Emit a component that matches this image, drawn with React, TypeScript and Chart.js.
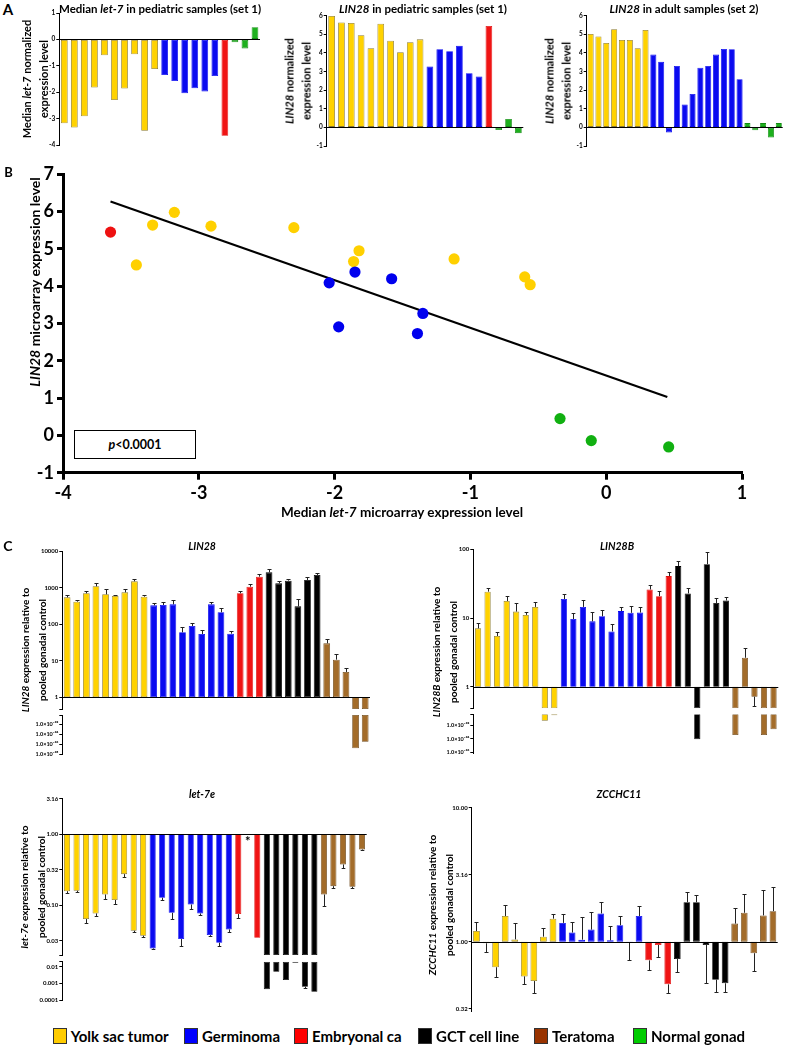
import React, { useEffect, useRef } from "react";
import { Chart, registerables } from "chart.js";

Chart.register(...registerables);

const FONT = "Lato, 'Open Sans', 'DejaVu Sans', sans-serif";

// ================= DATA =================
// Panel A (set 1) and Panel B: 20 pediatric samples
const set1Groups = ["Y", "Y", "Y", "Y", "Y", "Y", "Y", "Y", "Y", "Y", "B", "B", "B", "B", "B", "B", "R", "G", "G", "G"];
const set1Let7 = [-3.18, -3.34, -2.91, -1.82, -0.6, -2.3, -1.86, -0.56, -3.46, -1.12, -1.35, -1.58, -2.04, -1.85, -1.97, -1.39, -3.65, -0.11, -0.34, 0.46];
const set1Lin28 = [5.98, 5.64, 5.61, 4.95, 4.25, 5.57, 4.66, 4.04, 4.57, 4.73, 3.27, 4.2, 4.09, 4.38, 2.91, 2.73, 5.45, -0.14, 0.45, -0.31];

// Panel A (set 2): 25 adult samples
const set2Groups = ["Y", "Y", "Y", "Y", "Y", "Y", "Y", "Y", "B", "B", "B", "B", "B", "B", "B", "B", "B", "B", "B", "B", "G", "G", "G", "G", "G"];
const set2Lin28 = [5.02, 4.88, 4.54, 5.27, 4.7, 4.7, 4.25, 5.23, 3.91, 3.52, -0.27, 3.3, 1.23, 1.79, 3.2, 3.3, 3.91, 4.21, 4.2, 2.59, 0.23, -0.16, 0.23, -0.55, 0.23];

// Panel B regression line end points
const fitLineX = [-3.65, 0.45];
const fitLineY = [6.27, 1.03];
const pValueText = "<0.0001";

// Panel C: 32 samples each
const cGroups = ["Y", "Y", "Y", "Y", "Y", "Y", "Y", "Y", "Y", "B", "B", "B", "B", "B", "B", "B", "B", "B", "R", "R", "R", "K", "K", "K", "K", "K", "K", "T", "T", "T", "T", "T"];
const lin28Values = [541, 412, 697, 1082, 654, 589, 741, 1482, 565, 327, 334, 348, 59.8, 89.1, 53.8, 348, 211, 55, 697, 1059, 1986, 2612, 1306, 1546, 307, 1611, 2208, 29.9, 10.7, 4.93, 1.7e-7, 3.6e-6];
const lin28Err = [627, 457, 807, 1306, 896, 640, 896, 1718, 614, 387, 395, 448, 83.8, 110, 70.8, 404, 277, 63.7, 824, 1228, 2302, 3156, 1546, 1718, 477, 1986, 2556, 39.3, 15.3, 6.2, null, null];
const lin28bValues = [7.07, 24.2, 5.47, 17.7, 12.4, 11.1, 14.5, 0.042, 0.25, 18.9, 9.67, 14.5, 8.94, 10.6, 6.38, 12.6, 11.9, 12.0, 26.0, 20.8, 40.7, 56.9, 22.8, 8.5e-5, 60.8, 16.5, 18.0, 3.5e-4, 2.64, 0.715, 3.5e-4, 2.4e-3];
const lin28bErr = [8.36, 27.3, 6.18, 21.2, 16.4, 12.1, 17.1, null, null, 22.1, 11.7, 18.1, 12.1, 12.9, 8.17, 14.7, 15.2, 14.3, 30.1, 24.9, 46, 68, 26.9, null, 90.8, 19.3, 20.4, null, 3.61, 0.53, null, null];
const let7eValues = [0.157, 0.159, 0.0635, 0.0763, 0.141, 0.118, 0.273, 0.0435, 0.037, 0.0245, 0.127, 0.078, 0.0332, 0.102, 0.0763, 0.0378, 0.0295, 0.0454, 0.0747, null, 0.0347, 0.00044, 0.005, 0.00158, 0.017, 0.00063, 0.000316, 0.141, 0.185, 0.374, 0.181, 0.608];
const let7eErr = [0.146, 0.151, 0.0552, 0.07, 0.123, 0.105, 0.25, 0.042, 0.0358, 0.024, 0.118, 0.0635, 0.0265, 0.0888, 0.0717, 0.0362, 0.0267, 0.042, 0.0649, null, null, null, null, null, null, 0.0005, null, 0.0968, 0.176, 0.328, 0.176, 0.595];
const let7eStarIndex = 19;
const zcValues = [1.2, 0.972, 0.644, 1.553, 1.04, 0.55, 0.508, 1.09, 1.485, 1.38, 1.17, 1.034, 1.23, 1.625, 1.023, 1.326, 0.983, 1.553, 0.725, 0.945, 0.48, 0.742, 1.97, 1.97, 0.945, 0.52, 0.489, 1.364, 1.643, 0.82, 1.57, 1.69];
const zcErr = [1.41, 0.844, 0.543, 1.87, 1.38, 0.486, 0.415, 1.27, 1.61, 1.61, 1.395, 1.53, 1.66, 1.97, 1.3, 1.545, 0.725, 1.85, 0.612, 0.763, 0.415, 0.592, 2.33, 2.23, 0.489, 0.422, 0.422, 1.79, 2.27, 0.602, 2.42, 2.57];

// Tick values / labels
const aTicksLet7 = [-4, -3, -2, -1, 0, 1];
const aTicksLin28 = [-1, 0, 1, 2, 3, 4, 5, 6];
const bTicksX = [-4, -3, -2, -1, 0, 1];
const bTicksY = [-1, 0, 1, 2, 3, 4, 5, 6, 7];
const lin28UpTicks = [1, 10, 100, 1000, 10000];
const lin28UpLabels = ["1", "10", "100", "1000", "10000"];
const lin28LoTicks = [1e-2, 1e-4, 1e-6, 1e-8];
const lin28LoLabels = ["1.0×10⁻⁰²", "1.0×10⁻⁰⁴", "1.0×10⁻⁰⁶", "1.0×10⁻⁰⁸"];
const lin28bUpTicks = [1, 10, 100];
const lin28bUpLabels = ["1", "10", "100"];
const lin28bLoTicks = [1e-2, 1e-4, 1e-6];
const lin28bLoLabels = ["1.0×10⁻⁰²", "1.0×10⁻⁰⁴", "1.0×10⁻⁰⁶"];
const let7eUpTicks = [0.0316, 0.1, 0.316, 1, 3.16];
const let7eUpLabels = ["0.03", "0.10", "0.32", "1.00", "3.16"];
const let7eLoTicks = [0.01, 0.001, 0.0001];
const let7eLoLabels = ["0.01", "0.001", "0.0001"];
const zcTicks = [0.316, 1, 3.16, 10];
const zcLabels = ["0.32", "1.00", "3.16", "10.00"];

// Legend
const legendLabels = ["Yolk sac tumor", "Germinoma", "Embryonal ca", "GCT cell line", "Teratoma", "Normal gonad"];
const legendColors = ["#FFCC00", "#0000FF", "#FF0000", "#000000", "#993300", "#00CC00"];

// ================= STYLE =================
const FILL: Record<string, string> = { Y: "#FFD200", B: "#0A0AF0", R: "#F01414", K: "#000000", T: "#A36C2A", G: "#1DB01D" };
const EDGE: Record<string, string> = { Y: "#8C7A2E", B: "#0A0AF0", R: "#E01010", K: "#000000", T: "#6E4A1C", G: "#128A12" };
const DOT: Record<string, string> = { Y: "#FFD000", B: "#0000EE", R: "#EE1111", G: "#11B011" };

type Frame = { left: number; top: number; width: number; height: number; yw: number; xh: number; padding: { left: number; top: number; right: number; bottom: number } };

function frame(axisX: number, right: number, topPx: number, botPx: number, yw: number, xh = 0, pad = 6, padR = 3): Frame {
  const left = Math.floor(axisX - yw);
  const top = Math.floor(topPx - pad);
  const width = Math.ceil(right + padR - left);
  const height = Math.ceil(botPx + xh + pad - top);
  return {
    left, top, width, height, yw: axisX - left, xh,
    padding: { left: 0, top: topPx - top, right: left + width - right, bottom: top + height - botPx - xh },
  };
}

type Tk = { value: number; label: string };
const mkTicks = (vals: number[], labels: string[], edges: number[] = []): Tk[] => [
  ...vals.map((v, i) => ({ value: v, label: labels[i] })),
  ...edges.map((v) => ({ value: v, label: "" })),
];

interface BarSpec {
  f: Frame;
  groups: string[];
  data: any[];
  log: boolean;
  min: number;
  max: number;
  ticks: Tk[];
  tickSize: number;
  barPct: number;
  ref?: number;
  errFrom?: (number | null)[];
  errTo?: (number | null)[];
  star?: number;
}

function decor(spec: BarSpec) {
  return {
    id: "decor",
    afterDatasetsDraw(chart: any) {
      const { ctx, chartArea } = chart;
      const ys = chart.scales.y;
      const meta = chart.getDatasetMeta(0);
      ctx.save();
      if (spec.errFrom && spec.errTo) {
        ctx.strokeStyle = "#222";
        ctx.lineWidth = 1;
        spec.errTo.forEach((to, i) => {
          const from = spec.errFrom![i];
          if (to == null || from == null) return;
          const lo = Math.min(from, to);
          const hi = Math.max(from, to);
          if (lo < spec.min || hi > spec.max) return;
          const bar = meta.data[i];
          if (!bar) return;
          const x = Math.round(bar.x) + 0.5;
          const y0 = ys.getPixelForValue(from);
          const y1 = Math.round(ys.getPixelForValue(to)) + 0.5;
          const hw = Math.max(1.5, bar.width * 0.3);
          ctx.beginPath();
          ctx.moveTo(x, y0);
          ctx.lineTo(x, y1);
          ctx.moveTo(x - hw, y1);
          ctx.lineTo(x + hw, y1);
          ctx.stroke();
        });
      }
      if (spec.ref != null) {
        const py = Math.round(ys.getPixelForValue(spec.ref)) + 0.5;
        ctx.strokeStyle = "#000";
        ctx.lineWidth = 1;
        ctx.beginPath();
        ctx.moveTo(chartArea.left, py);
        ctx.lineTo(chartArea.right, py);
        ctx.stroke();
        if (spec.star != null) {
          const sx = chart.scales.x.getPixelForValue(spec.star);
          ctx.fillStyle = "#000";
          ctx.font = `bold 13px ${FONT}`;
          ctx.textAlign = "center";
          ctx.textBaseline = "top";
          ctx.fillText("*", sx, py + 1);
        }
      }
      ctx.restore();
    },
  };
}

function barConfig(spec: BarSpec) {
  const f = spec.f;
  return {
    type: "bar",
    data: {
      labels: spec.groups.map((_, i) => String(i)),
      datasets: [
        {
          data: spec.data,
          backgroundColor: spec.groups.map((g) => FILL[g]),
          borderColor: spec.groups.map((g) => EDGE[g]),
          borderWidth: 0.8,
          borderSkipped: false,
          barPercentage: spec.barPct,
          categoryPercentage: 1,
        },
      ],
    },
    options: {
      responsive: false,
      animation: false,
      events: [],
      layout: { padding: f.padding },
      plugins: { legend: { display: false }, tooltip: { enabled: false } },
      scales: {
        x: { display: false, offset: true },
        y: {
          type: spec.log ? "logarithmic" : "linear",
          min: spec.min,
          max: spec.max,
          afterFit: (s: any) => {
            s.width = f.yw;
          },
          afterBuildTicks: (s: any) => {
            s.ticks = spec.ticks.map((t) => ({ value: t.value }));
          },
          ticks: {
            autoSkip: false,
            padding: 1,
            color: "#000",
            font: { family: FONT, size: spec.tickSize, weight: "bold" },
            callback: (_v: any, i: number) => (spec.ticks[i] ? spec.ticks[i].label : ""),
          },
          grid: { drawOnChartArea: false, drawTicks: true, tickLength: 3, tickColor: "#000", tickWidth: 1 },
          border: { display: true, color: "#000", width: 1 },
        },
      },
    },
    plugins: [decor(spec)],
  };
}

// ================= FRAMES (layout) =================
const fA1 = frame(59.3, 260, 13, 145, 28);
const fA2 = frame(326.7, 523.3, 15.7, 146, 28);
const fA3 = frame(586.7, 782.7, 15.7, 146, 28);
const fB = frame(63, 742, 174.3, 472.7, 63, 40, 14, 18);
const fL28u = frame(62.3, 370, 551, 709, 36);
const fL28l = frame(62.3, 370, 715, 754.5, 36);
const fL28Bu = frame(473.3, 778.3, 549.3, 708.3, 36);
const fL28Bl = frame(473.3, 778.3, 714.3, 753.3, 36);
const fL7u = frame(62.3, 366.7, 798.7, 955, 36);
const fL7l = frame(62.3, 366.7, 961.7, 1000, 36);
const fZC = frame(471.7, 777.7, 807.7, 1011.7, 36);

// axis ranges
const L28 = { upMin: 0.479, upMax: 10000, loMin: 1e-8, loMax: 0.794 };
const L28B = { upMin: 0.485, upMax: 100, loMin: 8.1e-7, loMax: 0.355 };
const L7E = { upMin: 0.0198, upMax: 3.16, loMin: 1e-4, loMax: 0.02 };
const ZC = { min: 0.316, max: 10 };

const upperData = (vals: (number | null)[], min: number) => vals.map((v) => (v == null ? null : [1, Math.max(v, min)]));
const lowerData = (vals: (number | null)[], upMin: number, loMax: number) => vals.map((v) => (v != null && v < upMin ? [loMax, v] : null));
const inUpper = (vals: (number | null)[], min: number) => vals.map((v) => (v != null && v >= min ? v : null));

const specs: { f: Frame; cfg: any }[] = [
  { f: fA1, cfg: barConfig({ f: fA1, groups: set1Groups, data: set1Let7, log: false, min: -4, max: 1, ticks: mkTicks(aTicksLet7, aTicksLet7.map(String)), tickSize: 6.5, barPct: 0.67, ref: 0 }) },
  { f: fA2, cfg: barConfig({ f: fA2, groups: set1Groups, data: set1Lin28, log: false, min: -1, max: 6, ticks: mkTicks(aTicksLin28, aTicksLin28.map(String)), tickSize: 6.5, barPct: 0.68, ref: 0 }) },
  { f: fA3, cfg: barConfig({ f: fA3, groups: set2Groups, data: set2Lin28, log: false, min: -1, max: 6, ticks: mkTicks(aTicksLin28, aTicksLin28.map(String)), tickSize: 6.5, barPct: 0.77, ref: 0 }) },
  { f: fL28u, cfg: barConfig({ f: fL28u, groups: cGroups, data: upperData(lin28Values, L28.upMin), log: true, min: L28.upMin, max: L28.upMax, ticks: mkTicks(lin28UpTicks, lin28UpLabels, [L28.upMin]), tickSize: 6, barPct: 0.7, ref: 1, errFrom: inUpper(lin28Values, L28.upMin), errTo: lin28Err }) },
  { f: fL28l, cfg: barConfig({ f: fL28l, groups: cGroups, data: lowerData(lin28Values, L28.upMin, L28.loMax), log: true, min: L28.loMin, max: L28.loMax, ticks: mkTicks(lin28LoTicks, lin28LoLabels, [L28.loMax]), tickSize: 5.5, barPct: 0.7 }) },
  { f: fL28Bu, cfg: barConfig({ f: fL28Bu, groups: cGroups, data: upperData(lin28bValues, L28B.upMin), log: true, min: L28B.upMin, max: L28B.upMax, ticks: mkTicks(lin28bUpTicks, lin28bUpLabels, [L28B.upMin]), tickSize: 6, barPct: 0.65, ref: 1, errFrom: inUpper(lin28bValues, L28B.upMin), errTo: lin28bErr }) },
  { f: fL28Bl, cfg: barConfig({ f: fL28Bl, groups: cGroups, data: lowerData(lin28bValues, L28B.upMin, L28B.loMax), log: true, min: L28B.loMin, max: L28B.loMax, ticks: mkTicks(lin28bLoTicks, lin28bLoLabels, [L28B.loMax]), tickSize: 5.5, barPct: 0.65 }) },
  { f: fL7u, cfg: barConfig({ f: fL7u, groups: cGroups, data: upperData(let7eValues, L7E.upMin), log: true, min: L7E.upMin, max: L7E.upMax, ticks: mkTicks(let7eUpTicks, let7eUpLabels, [L7E.upMin]), tickSize: 6, barPct: 0.64, ref: 1, errFrom: inUpper(let7eValues, L7E.upMin), errTo: let7eErr, star: let7eStarIndex }) },
  { f: fL7l, cfg: barConfig({ f: fL7l, groups: cGroups, data: lowerData(let7eValues, L7E.upMin, L7E.loMax), log: true, min: L7E.loMin, max: L7E.loMax, ticks: mkTicks(let7eLoTicks, let7eLoLabels, [L7E.loMax]), tickSize: 6, barPct: 0.64, errFrom: let7eValues.map((v) => (v != null && v < L7E.upMin ? v : null)), errTo: let7eErr }) },
  { f: fZC, cfg: barConfig({ f: fZC, groups: cGroups, data: upperData(zcValues, ZC.min), log: true, min: ZC.min, max: ZC.max, ticks: mkTicks(zcTicks, zcLabels), tickSize: 6, barPct: 0.7, ref: 1, errFrom: zcValues, errTo: zcErr }) },
];

const scatterCfg = {
  type: "scatter",
  data: {
    datasets: [
      {
        data: set1Let7.map((x, i) => ({ x, y: set1Lin28[i] })),
        pointRadius: 5.6,
        pointBackgroundColor: set1Groups.map((g) => DOT[g]),
        pointBorderWidth: 0,
        pointBorderColor: "rgba(0,0,0,0)",
      },
      {
        data: fitLineX.map((x, i) => ({ x, y: fitLineY[i] })),
        showLine: true,
        borderColor: "#000",
        borderWidth: 2.2,
        pointRadius: 0,
      },
    ],
  },
  options: {
    responsive: false,
    animation: false,
    events: [],
    layout: { padding: fB.padding },
    plugins: { legend: { display: false }, tooltip: { enabled: false } },
    scales: {
      x: {
        type: "linear",
        min: -4,
        max: 1,
        afterFit: (s: any) => {
          s.height = fB.xh;
        },
        afterBuildTicks: (s: any) => {
          s.ticks = bTicksX.map((v) => ({ value: v }));
        },
        ticks: { color: "#000", padding: 3, font: { family: FONT, size: 18, weight: "bold" }, callback: (v: any) => String(v) },
        grid: { drawOnChartArea: false, tickLength: 7, tickWidth: 3, tickColor: "#000" },
        border: { display: true, color: "#000", width: 3 },
      },
      y: {
        type: "linear",
        min: -1,
        max: 7,
        afterFit: (s: any) => {
          s.width = fB.yw;
        },
        afterBuildTicks: (s: any) => {
          s.ticks = bTicksY.map((v) => ({ value: v }));
        },
        ticks: { color: "#000", padding: 3, font: { family: FONT, size: 18, weight: "bold" }, callback: (v: any) => String(v) },
        grid: { drawOnChartArea: false, tickLength: 6, tickWidth: 3, tickColor: "#000" },
        border: { display: true, color: "#000", width: 3 },
      },
    },
  },
};

// ================= COMPONENTS =================
function ChartBox({ f, cfg }: { f: Frame; cfg: any }) {
  const ref = useRef<HTMLCanvasElement>(null);
  useEffect(() => {
    const c = new Chart(ref.current as HTMLCanvasElement, cfg);
    return () => c.destroy();
  }, []);
  return (
    <canvas
      ref={ref}
      width={f.width}
      height={f.height}
      style={{ position: "absolute", left: f.left, top: f.top, width: f.width, height: f.height }}
    />
  );
}

function Label({ x, y, size, rot = false, lh, children, style }: any) {
  return (
    <div
      style={{
        position: "absolute",
        left: x,
        top: y,
        transform: `translate(-50%, -50%)${rot ? " rotate(-90deg)" : ""}`,
        fontSize: size,
        lineHeight: lh ? `${lh}px` : 1.15,
        whiteSpace: "nowrap",
        textAlign: "center",
        fontWeight: 700,
        ...style,
      }}
    >
      {children}
    </div>
  );
}

const legendX = [52.7, 184, 294, 418, 534, 633];

export default function App() {
  return (
    <div
      style={{
        position: "absolute",
        left: 0,
        top: 0,
        width: 788,
        height: 1048,
        overflow: "hidden",
        background: "#fff",
        fontFamily: FONT,
        color: "#000",
      }}
    >
      {specs.map((s, i) => (
        <ChartBox key={i} f={s.f} cfg={s.cfg} />
      ))}
      <ChartBox f={fB} cfg={scatterCfg} />

      {/* Panel A */}
      <Label x={8} y={10} size={15}>A</Label>
      <Label x={160} y={8.5} size={11.5}>Median <i>let-7</i> in pediatric samples (set 1)</Label>
      <Label x={423} y={8.5} size={11.5}><i>LIN28</i> in pediatric samples (set 1)</Label>
      <Label x={684} y={8.5} size={11.5}><i>LIN28</i> in adult samples (set 2)</Label>
      <Label x={35} y={79} size={11} rot lh={16.5}>Median <i>let-7</i> normalized<br />expression level</Label>
      <Label x={298} y={81} size={11} rot lh={16.5}><i>LIN28</i> normalized<br />expression level</Label>
      <Label x={558} y={81} size={11} rot lh={16.5}><i>LIN28</i> normalized<br />expression level</Label>

      {/* Panel B */}
      <Label x={8.5} y={172} size={13}>B</Label>
      <Label x={35} y={282} size={14} rot><i>LIN28</i> microarray expression level</Label>
      <Label x={402} y={513} size={13.5}>Median <i>let-7</i> microarray expression level</Label>
      <div
        style={{
          position: "absolute",
          left: 74,
          top: 430,
          width: 120,
          height: 27,
          border: "1px solid #000",
          display: "flex",
          alignItems: "center",
          justifyContent: "center",
          fontSize: 12.5,
          fontWeight: 700,
          background: "#fff",
        }}
      >
        <i>p</i>
        {pValueText}
      </div>

      {/* Panel C */}
      <Label x={8} y={546} size={14}>C</Label>
      <Label x={202} y={546} size={10.5}><i>LIN28</i></Label>
      <Label x={617} y={546} size={10.5}><i>LIN28B</i></Label>
      <Label x={202} y={794} size={10.5}><i>let-7e</i></Label>
      <Label x={619} y={794} size={10.5}><i>ZCCHC11</i></Label>
      <Label x={33} y={650} size={10} rot lh={16.5}><i>LIN28</i> expression relative to<br />pooled gonadal control</Label>
      <Label x={443.5} y={652} size={10} rot lh={16.5}><i>LIN28B</i> expression relative to<br />pooled gonadal control</Label>
      <Label x={31.5} y={887} size={10} rot lh={16.5}><i>let-7e</i> expression relative to<br />pooled gonadal control</Label>
      <Label x={440} y={905} size={10} rot lh={16.5}><i>ZCCHC11</i> expression relative to<br />pooled gonadal control</Label>

      {/* Legend */}
      {legendLabels.map((lab, i) => (
        <React.Fragment key={lab}>
          <div
            style={{
              position: "absolute",
              left: legendX[i],
              top: 1028,
              width: 12,
              height: 14,
              background: legendColors[i],
              border: "1px solid #333",
            }}
          />
          <div
            style={{
              position: "absolute",
              left: legendX[i] + 18,
              top: 1035.5,
              transform: "translateY(-50%)",
              fontSize: 15,
              fontWeight: 700,
              whiteSpace: "nowrap",
              lineHeight: 1,
            }}
          >
            {lab}
          </div>
        </React.Fragment>
      ))}
    </div>
  );
}
